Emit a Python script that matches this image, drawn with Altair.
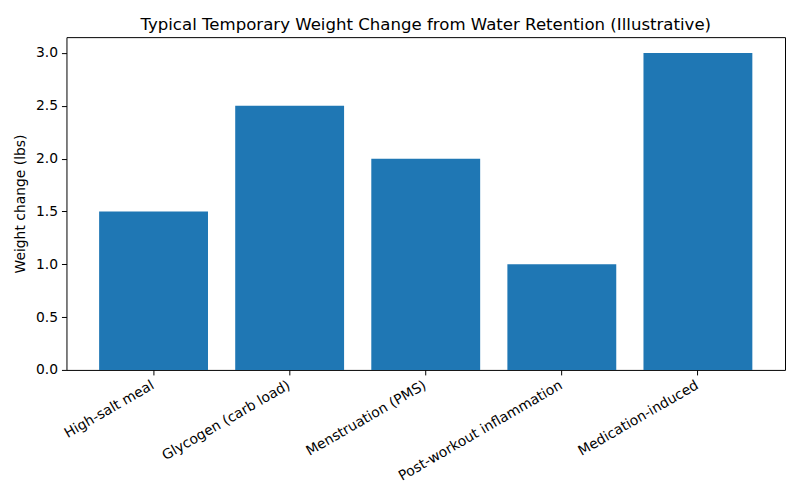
import altair as alt
import pandas as pd

categories = ["High-salt meal", "Glycogen (carb load)", "Menstruation (PMS)",
              "Post-workout inflammation", "Medication-induced"]
values = [1.5, 2.5, 2.0, 1.0, 3.0]

df = pd.DataFrame({"cat": categories, "val": values})

font = "DejaVu Sans"

chart = alt.Chart(df).mark_bar(color="#1f77b4").encode(
    x=alt.X("cat:N", sort=categories, title=None,
            scale=alt.Scale(paddingInner=0.2, paddingOuter=0.24),
            axis=alt.Axis(labelAngle=330, labelAlign="right", labelBaseline="top",
                          labelFont=font, labelFontSize=13.9, labelColor="black",
                          labelLimit=0, labelOverlap=False, labelOffset=-4,
                          tickColor="black", tickSize=5, labelPadding=3,
                          domain=False, grid=False)),
    y=alt.Y("val:Q", title="Weight change (lbs)",
            scale=alt.Scale(domain=[0, 3.15], nice=False),
            axis=alt.Axis(values=[0, 0.5, 1.0, 1.5, 2.0, 2.5, 3.0], format=".1f",
                          labelFont=font, labelFontSize=13.9, labelColor="black",
                          titleFont=font, titleFontSize=13.9, titleFontWeight="normal",
                          titleColor="black", titlePadding=8,
                          tickColor="black", tickSize=5, labelPadding=4,
                          domain=False, grid=False)),
).properties(
    width=719, height=333,
    title=alt.Title("Typical Temporary Weight Change from Water Retention (Illustrative)",
                    font=font, fontSize=16.6, fontWeight="normal", color="black",
                    anchor="middle", offset=4),
    autosize=alt.AutoSizeParams(type="none"),
    padding={"left": 58.5, "top": 29, "right": 7, "bottom": 114},
).configure_view(stroke="black", strokeWidth=1)

chart.save("out.html", embed_options={"renderer": "svg", "actions": False})
